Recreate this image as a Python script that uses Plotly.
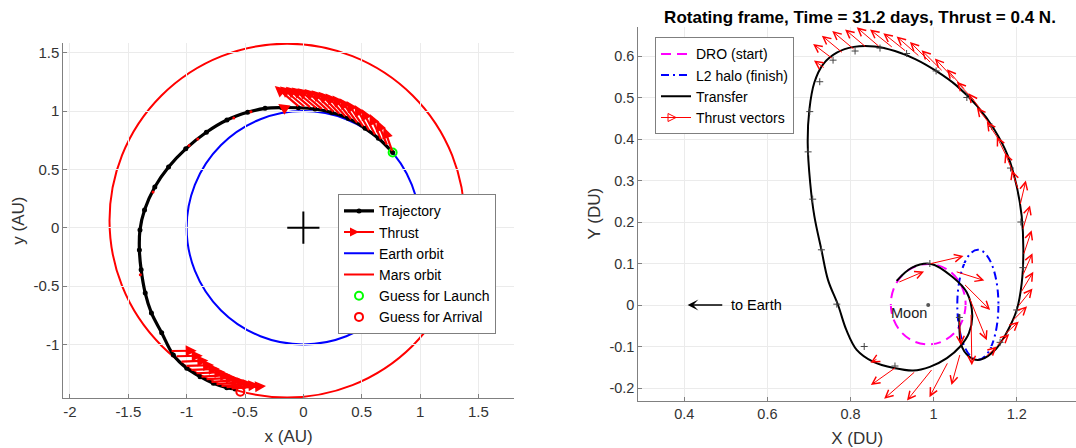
import plotly.graph_objects as go

# ================= LEFT PANEL DATA (AU) =================
traj_x = [0.765, 0.643, 0.529, 0.386, 0.243, 0.100, -0.043, -0.186, -0.328, -0.478,
          -0.655, -0.831, -1.008, -1.155, -1.273, -1.361, -1.400, -1.405, -1.390, -1.355,
          -1.302, -1.214, -1.114, -0.999, -0.885, -0.771, -0.656, -0.585]
traj_y = [0.645, 0.766, 0.852, 0.937, 0.988, 1.017, 1.028, 1.030, 1.023, 0.989,
          0.923, 0.818, 0.676, 0.520, 0.349, 0.151, -0.020, -0.190, -0.361, -0.560,
          -0.730, -0.900, -1.091, -1.205, -1.277, -1.334, -1.371, -1.382]

coast_dot_x = [-0.449, -0.596, -0.905, -0.979, -1.288, -1.397]
coast_dot_y = [0.994, 0.940, 0.761, 0.705, 0.307, -0.403]

launch_x, launch_y = [0.765], [0.645]
arrival_x, arrival_y = [-0.540], [-1.405]
sun_x, sun_y = [0.0], [0.0]

earth_orbit = [-1.0, -1.0, 1.0, 1.0]          # x0, y0, x1, y1
mars_orbit = [-1.661, -1.455, 1.382, 1.577]

# thrust vectors near departure: (tail x, tail y, head x, head y)
thrust_dep = [
    (0.765, 0.645, 0.690, 0.860), (0.720, 0.700, 0.630, 0.922), (0.670, 0.745, 0.570, 0.975),
    (0.620, 0.785, 0.500, 1.018), (0.570, 0.822, 0.440, 1.052), (0.520, 0.856, 0.370, 1.085),
    (0.470, 0.888, 0.310, 1.110), (0.420, 0.917, 0.250, 1.132), (0.370, 0.942, 0.190, 1.150),
    (0.320, 0.963, 0.130, 1.165), (0.270, 0.982, 0.070, 1.178), (0.220, 0.996, 0.010, 1.188),
    (0.170, 1.008, -0.050, 1.196), (0.120, 1.017, -0.100, 1.202), (0.070, 1.023, -0.150, 1.207),
    (0.020, 1.028, -0.200, 1.211), (-0.030, 1.031, -0.245, 1.214), (-0.170, 1.030, -0.215, 1.060),
]
# thrust vectors near arrival
thrust_arr = [
    (-1.142, -1.057, -0.914, -1.054), (-1.099, -1.102, -0.862, -1.097), (-1.057, -1.148, -0.814, -1.139),
    (-1.014, -1.185, -0.765, -1.177), (-0.971, -1.219, -0.717, -1.208), (-0.928, -1.248, -0.668, -1.237),
    (-0.885, -1.277, -0.620, -1.262), (-0.842, -1.299, -0.571, -1.285), (-0.800, -1.322, -0.522, -1.305),
    (-0.757, -1.342, -0.474, -1.322), (-0.714, -1.357, -0.425, -1.337), (-0.671, -1.368, -0.377, -1.348),
    (-0.628, -1.377, -0.320, -1.357),
]

left_xticks = [-2, -1.5, -1, -0.5, 0, 0.5, 1, 1.5]
left_xticktext = ['-2', '-1.5', '-1', '-0.5', '0', '0.5', '1', '1.5']
left_yticks = [-1, -0.5, 0, 0.5, 1, 1.5]
left_yticktext = ['-1', '-0.5', '0', '0.5', '1', '1.5']

# ================= RIGHT PANEL DATA (DU) =================
transfer_x = [0.911, 0.948, 0.994, 1.045, 1.080, 1.093, 1.085, 1.064, 1.032, 0.991,
              0.951, 0.905, 0.855, 0.815, 0.790, 0.770, 0.746, 0.730, 0.713, 0.703,
              0.697, 0.701, 0.713, 0.734, 0.767, 0.808, 0.858, 0.907, 0.957, 1.006,
              1.056, 1.105, 1.146, 1.179, 1.200, 1.212, 1.216, 1.212, 1.200, 1.175,
              1.150, 1.115, 1.095, 1.074, 1.065, 1.062, 1.062]
transfer_y = [0.058, 0.090, 0.099, 0.068, 0.030, -0.025, -0.068, -0.100, -0.128, -0.149,
              -0.158, -0.152, -0.137, -0.108, -0.060, 0.000, 0.060, 0.133, 0.214, 0.294,
              0.391, 0.471, 0.536, 0.580, 0.608, 0.622, 0.623, 0.612, 0.592, 0.564,
              0.528, 0.479, 0.423, 0.359, 0.286, 0.214, 0.133, 0.052, -0.012, -0.068,
              -0.106, -0.131, -0.130, -0.112, -0.090, -0.050, -0.022]

node_x = [0.726, 0.702, 0.698, 0.709, 0.730, 0.767, 0.833, 0.907, 0.758, 0.811, 0.871,
          0.935, 1.006, 1.080, 1.140, 1.185, 1.210, 1.215, 1.200, 1.160, 0.991, 1.062]
node_y = [0.538, 0.466, 0.369, 0.255, 0.133, 0.002, -0.100, -0.147, 0.590, 0.612, 0.619,
          0.606, 0.564, 0.500, 0.430, 0.330, 0.200, 0.090, -0.012, -0.090, 0.100, -0.030]

dro_orbit = [0.897, -0.095, 1.077, 0.099]        # x0, y0, x1, y1
halo_orbit = [1.057, -0.132, 1.156, 0.133]
moon_x, moon_y = [0.987], [0.0]

thrust_rot = [
    (0.739, 0.570, 0.712, 0.589), (0.759, 0.592, 0.710, 0.629), (0.783, 0.606, 0.731, 0.649),
    (0.811, 0.614, 0.756, 0.660), (0.839, 0.620, 0.787, 0.664), (0.871, 0.621, 0.815, 0.669),
    (0.903, 0.619, 0.847, 0.664), (0.935, 0.610, 0.879, 0.655), (0.967, 0.598, 0.911, 0.647),
    (0.995, 0.582, 0.943, 0.634), (1.023, 0.562, 0.971, 0.614), (1.052, 0.542, 1.003, 0.594),
    (1.076, 0.518, 1.032, 0.568), (1.100, 0.490, 1.056, 0.538), (1.120, 0.462, 1.084, 0.510),
    (1.140, 0.430, 1.104, 0.476), (1.160, 0.394, 1.128, 0.442), (1.176, 0.357, 1.152, 0.406),
    (1.192, 0.317, 1.172, 0.366), (1.204, 0.277, 1.188, 0.325),
    (1.208, 0.240, 1.222, 0.300), (1.214, 0.180, 1.232, 0.240), (1.216, 0.120, 1.236, 0.180),
    (1.214, 0.070, 1.238, 0.125), (1.210, 0.030, 1.240, 0.080), (1.202, -0.005, 1.238, 0.040),
    (1.188, -0.040, 1.225, -0.003), (1.170, -0.072, 1.205, -0.040), (1.150, -0.100, 1.182, -0.070),
    (1.125, -0.125, 1.152, -0.100),
    (0.914, 0.054, 0.977, 0.081), (0.990, 0.099, 1.072, 0.118), (1.052, 0.081, 1.122, 0.059),
    (1.072, 0.052, 1.136, -0.012), (1.085, 0.020, 1.128, -0.085), (1.090, -0.020, 1.092, -0.145),
    (1.062, -0.036, 1.066, -0.097), (1.064, -0.117, 1.043, -0.193),
    (1.035, -0.137, 0.990, -0.222), (0.998, -0.153, 0.936, -0.230), (0.957, -0.159, 0.881, -0.226),
    (0.911, -0.149, 0.849, -0.193), (0.866, -0.129, 0.848, -0.139),
]

right_xticks = [0.4, 0.6, 0.8, 1.0, 1.2]
right_xticktext = ['0.4', '0.6', '0.8', '1', '1.2']
right_yticks = [-0.2, -0.1, 0, 0.1, 0.2, 0.3, 0.4, 0.5, 0.6]
right_yticktext = ['-0.2', '-0.1', '0', '0.1', '0.2', '0.3', '0.4', '0.5', '0.6']

title_text = 'Rotating frame, Time = 31.2 days, Thrust = 0.4 N.'

# ================= FIGURE =================
W, H = 1076, 448
FONT = 'Liberation Sans, Arial, Helvetica, sans-serif'
TICKC = '#333333'
AXC = '#808080'
GRIDC = '#ebebeb'

fig = go.Figure()

# ---- left panel traces ----
fig.add_trace(go.Scatter(x=traj_x, y=traj_y, mode='lines+markers', name='Trajectory',
                         line=dict(color='black', width=3.2, shape='spline'),
                         marker=dict(size=5, color='black'),
                         xaxis='x', yaxis='y', legend='legend'))
fig.add_trace(go.Scatter(x=coast_dot_x, y=coast_dot_y, mode='markers', showlegend=False,
                         marker=dict(size=3, color='red'), xaxis='x', yaxis='y'))
fig.add_trace(go.Scatter(x=[None], y=[None], mode='lines+markers', name='Thrust',
                         line=dict(color='red', width=2),
                         marker=dict(symbol='arrow-right', size=9, color='red'),
                         xaxis='x', yaxis='y', legend='legend'))
fig.add_trace(go.Scatter(x=[None], y=[None], mode='lines', name='Earth orbit',
                         line=dict(color='blue', width=2), xaxis='x', yaxis='y', legend='legend'))
fig.add_trace(go.Scatter(x=[None], y=[None], mode='lines', name='Mars orbit',
                         line=dict(color='red', width=2), xaxis='x', yaxis='y', legend='legend'))
fig.add_trace(go.Scatter(x=launch_x, y=launch_y, mode='markers', name='Guess for Launch',
                         marker=dict(symbol='circle-open', size=8, color='#00ff00', line=dict(width=2)),
                         xaxis='x', yaxis='y', legend='legend'))
fig.add_trace(go.Scatter(x=arrival_x, y=arrival_y, mode='markers', name='Guess for Arrival',
                         marker=dict(symbol='circle-open', size=8, color='red', line=dict(width=2)),
                         xaxis='x', yaxis='y', legend='legend'))
fig.add_trace(go.Scatter(x=sun_x, y=sun_y, mode='markers', showlegend=False,
                         marker=dict(symbol='cross-thin', size=23, line=dict(width=2, color='black')),
                         xaxis='x', yaxis='y'))

# ---- right panel traces ----
fig.add_trace(go.Scatter(x=[None], y=[None], mode='lines', name='DRO (start)',
                         line=dict(color='#ff00ff', width=2, dash='10px,6px'),
                         xaxis='x2', yaxis='y2', legend='legend2'))
fig.add_trace(go.Scatter(x=[None], y=[None], mode='lines', name='L2 halo (finish)',
                         line=dict(color='blue', width=2, dash='8px,4px,2px,4px'),
                         xaxis='x2', yaxis='y2', legend='legend2'))
fig.add_trace(go.Scatter(x=transfer_x, y=transfer_y, mode='lines', name='Transfer',
                         line=dict(color='black', width=2, shape='spline'),
                         xaxis='x2', yaxis='y2', legend='legend2'))
fig.add_trace(go.Scatter(x=[None], y=[None], mode='lines+markers', name='Thrust vectors',
                         line=dict(color='red', width=1),
                         marker=dict(symbol='arrow-right-open', size=8, color='red', line=dict(width=1, color='red')),
                         xaxis='x2', yaxis='y2', legend='legend2'))
fig.add_trace(go.Scatter(x=node_x, y=node_y, mode='markers', showlegend=False,
                         marker=dict(symbol='cross-thin', size=5, line=dict(width=1, color='#444444')),
                         xaxis='x2', yaxis='y2'))
fig.add_trace(go.Scatter(x=moon_x, y=moon_y, mode='markers', showlegend=False,
                         marker=dict(size=4, color='#555555'), xaxis='x2', yaxis='y2'))

# ---- shapes (orbits) ----
shapes = [
    dict(type='circle', xref='x', yref='y', x0=earth_orbit[0], y0=earth_orbit[1],
         x1=earth_orbit[2], y1=earth_orbit[3], line=dict(color='blue', width=2), layer='below'),
    dict(type='circle', xref='x', yref='y', x0=mars_orbit[0], y0=mars_orbit[1],
         x1=mars_orbit[2], y1=mars_orbit[3], line=dict(color='red', width=2), layer='below'),
    dict(type='circle', xref='x2', yref='y2', x0=dro_orbit[0], y0=dro_orbit[1],
         x1=dro_orbit[2], y1=dro_orbit[3], line=dict(color='#ff00ff', width=2, dash='10px,6px'), layer='below'),
    dict(type='circle', xref='x2', yref='y2', x0=halo_orbit[0], y0=halo_orbit[1],
         x1=halo_orbit[2], y1=halo_orbit[3], line=dict(color='blue', width=2, dash='8px,4px,2px,4px'), layer='below'),
]

# ---- annotations (arrows and labels) ----
ann = []
for tx, ty, hx, hy in thrust_dep + thrust_arr:
    ann.append(dict(xref='x', yref='y', axref='x', ayref='y', x=hx, y=hy, ax=tx, ay=ty,
                    text='', showarrow=True, arrowhead=2, arrowsize=1.0, arrowwidth=2.2,
                    arrowcolor='red', standoff=0, startstandoff=0))
for tx, ty, hx, hy in thrust_rot:
    ann.append(dict(xref='x2', yref='y2', axref='x2', ayref='y2', x=hx, y=hy, ax=tx, ay=ty,
                    text='', showarrow=True, arrowhead=5, arrowsize=1.5, arrowwidth=1,
                    arrowcolor='red', standoff=0, startstandoff=0))
ann.append(dict(xref='x2', yref='y2', axref='x2', ayref='y2', x=0.408, y=0.0, ax=0.495, ay=0.0,
                text='', showarrow=True, arrowhead=3, arrowsize=1.2, arrowwidth=1.5,
                arrowcolor='black', standoff=0, startstandoff=0))
ann.append(dict(xref='x2', yref='y2', x=0.507, y=0.0, text='to Earth', showarrow=False,
                xanchor='left', yanchor='middle', font=dict(size=14.5, color='black', family=FONT)))
ann.append(dict(xref='x2', yref='y2', x=0.941, y=-0.02, text='Moon', showarrow=False,
                xanchor='center', yanchor='middle', font=dict(size=14.5, color='#222222', family=FONT)))


def ax_style(rng, dom, tv, tt, title, fs, anchor, standoff):
    return dict(domain=dom, range=rng, anchor=anchor, tickvals=tv, ticktext=tt, showgrid=True,
                gridcolor=GRIDC, gridwidth=1, zeroline=False, showline=True, linecolor=AXC,
                linewidth=1, ticks='inside', ticklen=4, tickcolor=AXC,
                tickfont=dict(size=fs, color=TICKC, family=FONT),
                title=dict(text=title, font=dict(size=17, color=TICKC, family=FONT), standoff=standoff),
                fixedrange=True)


xa = ax_style([-2.057, 1.805], [63.3 / W, 514 / W], left_xticks, left_xticktext, 'x (AU)', 15, 'y', 10)
ya = ax_style([-1.462, 1.583], [1 - 398.3 / H, 1 - 43 / H], left_yticks, left_yticktext, 'y (AU)', 15, 'x', 4)
xa2 = ax_style([0.2893, 1.3427], [638.3 / W, 1.0], right_xticks, right_xticktext, 'X (DU)', 14.5, 'y2', 11)
ya2 = ax_style([-0.2306, 0.6706], [1 - 400.7 / H, 1 - 26.7 / H], right_yticks, right_yticktext, 'Y (DU)', 14.5, 'x2', 4)

fig.update_layout(
    width=W, height=H, margin=dict(l=0, r=0, t=0, b=0),
    paper_bgcolor='white', plot_bgcolor='white',
    font=dict(family=FONT),
    xaxis=xa, yaxis=ya, xaxis2=xa2, yaxis2=ya2,
    shapes=shapes,
    annotations=ann,
    title=dict(text='<b>' + title_text + '</b>', x=860 / W, xanchor='center', y=1 - 17.4 / H,
               yanchor='middle', font=dict(size=17, color='black', family=FONT)),
    legend=dict(x=338 / W, y=1 - 194.3 / H, xanchor='left', yanchor='top', bgcolor='white',
                bordercolor='#7f7f7f', borderwidth=1, font=dict(size=14, color='black', family=FONT)),
    legend2=dict(x=655 / W, y=1 - 37.3 / H, xanchor='left', yanchor='top', bgcolor='white',
                 bordercolor='#7f7f7f', borderwidth=1, font=dict(size=14, color='black', family=FONT)),
    showlegend=True,
    hovermode=False,
)

fig.write_html('out.html', config={'displayModeBar': False, 'staticPlot': True},
               post_script="document.body.style.margin='0';")
